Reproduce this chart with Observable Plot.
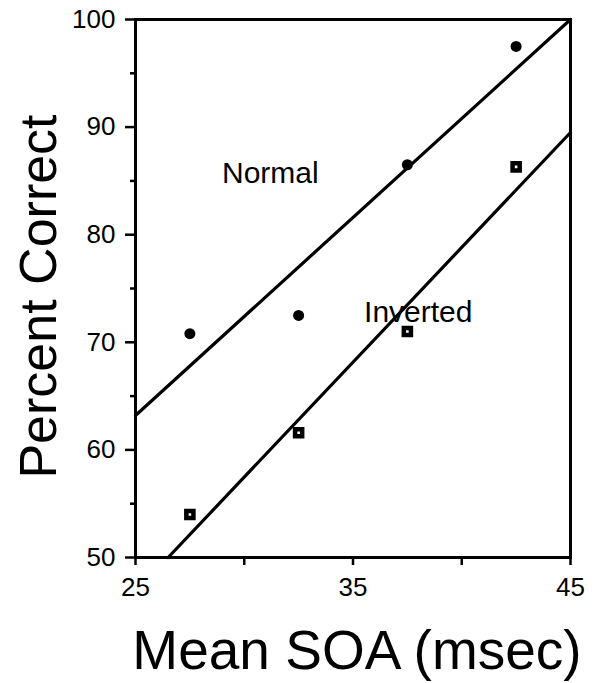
<!DOCTYPE html>
<html>
<head>
<meta charset="utf-8">
<script src="https://cdn.jsdelivr.net/npm/d3@7"></script>
<script src="https://cdn.jsdelivr.net/npm/@observablehq/plot@0.6"></script>
<style>
  html, body { margin: 0; padding: 0; background: #fff; }
  svg { display: block; }
</style>
</head>
<body>
<div id="chart"></div>
<script>
// Data
const soa = [27.5, 32.5, 37.5, 42.5];
const normal = [70.8, 72.5, 86.5, 97.5];
const inverted = [54.0, 61.6, 71.0, 86.3];

// Fitted regression lines (endpoints)
const normalFitX = [25, 45];
const normalFitY = [63.2, 100];
const invertedFitX = [26.5, 45];
const invertedFitY = [50, 89.5];

// Axis ticks
const yMajor = [50, 60, 70, 80, 90, 100];
const yMinor = [55, 65, 75, 85, 95];
const xTicks = [25, 30, 35, 40, 45];
const xLabels = [25, 35, 45];

// Series labels
const seriesNames = ["Normal", "Inverted"];
const seriesLabelX = [31.2, 38.0];
const seriesLabelY = [85.7, 72.8];

const normalPts = soa.map((x, i) => ({x, y: normal[i]}));
const invertedPts = soa.map((x, i) => ({x, y: inverted[i]}));
const normalFit = normalFitX.map((x, i) => ({x, y: normalFitY[i]}));
const invertedFit = invertedFitX.map((x, i) => ({x, y: invertedFitY[i]}));
const labels = seriesNames.map((t, i) => ({t, x: seriesLabelX[i], y: seriesLabelY[i]}));

const font = "Liberation Sans, Arial, Helvetica, sans-serif";

const chart = Plot.plot({
  width: 598,
  height: 683,
  marginLeft: 135,
  marginRight: 28,
  marginTop: 19,
  marginBottom: 126,
  style: {fontFamily: font, color: "#000", background: "#fff"},
  x: {domain: [25, 45]},
  y: {domain: [50, 100]},
  marks: [
    // y axis major ticks
    Plot.axisY({ticks: yMajor, tickSize: 10, strokeWidth: 2.5, label: null, tickFormat: () => ""}),
    // y axis minor ticks
    Plot.axisY({ticks: yMinor, tickSize: 5, strokeWidth: 2.5, label: null, tickFormat: () => ""}),
    // x axis ticks
    Plot.axisX({ticks: xTicks, tickSize: 8, strokeWidth: 2.5, label: null, tickFormat: () => ""}),
    // tick labels
    Plot.text(yMajor, {y: d => d, frameAnchor: "left", dx: -20, textAnchor: "end", lineAnchor: "middle", fontSize: 26, fill: "#000", text: d => String(d)}),
    Plot.text(xLabels, {x: d => d, frameAnchor: "bottom", dy: 20, textAnchor: "middle", lineAnchor: "top", fontSize: 26, fill: "#000", text: d => String(d)}),
    Plot.frame({stroke: "#000", strokeWidth: 3}),
    // regression lines
    Plot.line(normalFit, {x: "x", y: "y", stroke: "#000", strokeWidth: 3.2}),
    Plot.line(invertedFit, {x: "x", y: "y", stroke: "#000", strokeWidth: 3.2}),
    // points
    Plot.dot(normalPts, {x: "x", y: "y", r: 5.5, fill: "#000", stroke: "none"}),
    Plot.dot(invertedPts, {x: "x", y: "y", symbol: "square", r: 4, fill: "#fff", stroke: "#000", strokeWidth: 4.5}),
    // series labels
    Plot.text(labels, {x: "x", y: "y", text: "t", fontSize: 30, fill: "#000", textAnchor: "middle", lineAnchor: "middle"}),
    // axis titles
    Plot.text(["Mean SOA (msec)"], {frameAnchor: "bottom", dx: 4, dy: 111, textAnchor: "middle", lineAnchor: "bottom", fontSize: 55, fill: "#000", text: d => d}),
    Plot.text(["Percent Correct"], {frameAnchor: "left", dx: -80, dy: 8, rotate: -90, textAnchor: "middle", lineAnchor: "bottom", fontSize: 52, fill: "#000", text: d => d})
  ]
});

document.getElementById("chart").appendChild(chart);
</script>
</body>
</html>
